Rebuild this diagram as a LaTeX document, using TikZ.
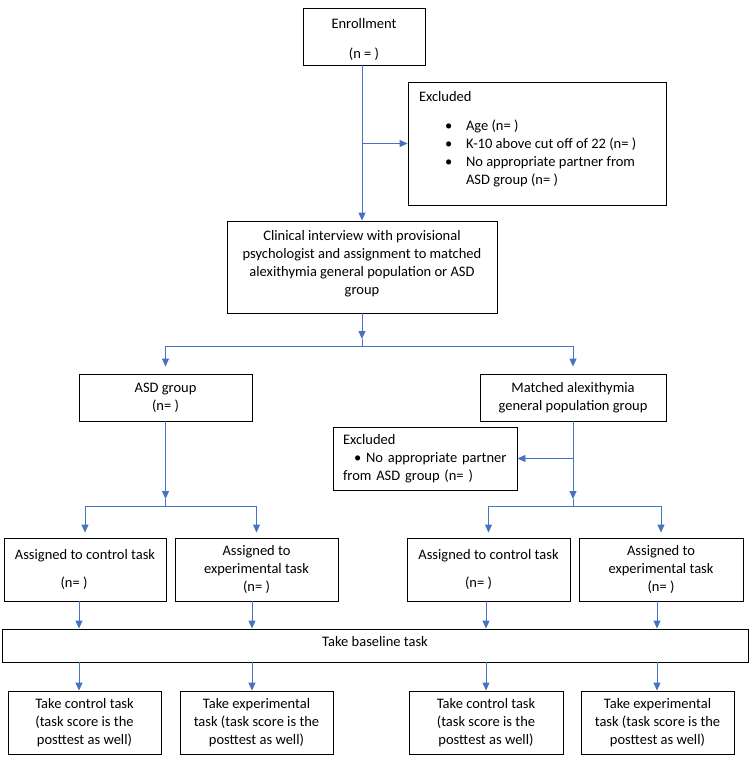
\documentclass[tikz,border=0pt]{standalone}
\usepackage{fontspec}
\setmainfont{Carlito}
\usetikzlibrary{arrows.meta}
\definecolor{conn}{HTML}{4472C4}
\newcommand\myfs{\fontsize{14.5pt}{18pt}\selectfont}
\newcommand\shiftc[2]{\raisebox{#1}[\height][\depth]{\begin{tabular}{@{}c@{}}#2\end{tabular}}}
\newcommand\shiftl[2]{\raisebox{#1}[\height][\depth]{\begin{tabular}{@{}l@{}}#2\end{tabular}}}
\begin{document}
\begin{tikzpicture}[x=1pt,y=-1pt,
  box/.style={draw=black, line width=0.9pt, inner sep=0pt, align=center, font=\myfs},
  arr/.style={draw=conn, line width=0.9pt, -{Triangle[length=8pt,width=7pt]}},
  ln/.style={draw=conn, line width=0.9pt}]
\useasboundingbox (0,0) rectangle (749,768);
% boxes
\node[box, minimum width=122pt, minimum height=57pt] (enroll) at (364,36.5) {\shiftc{-3pt}{Enrollment\\[12pt](n = )}};
\node[box, minimum width=258pt, minimum height=123pt, inner xsep=11pt] (excl1) at (537,143.5)
  {\makebox[236pt][l]{\shiftl{4pt}{Excluded\\[11pt]
   \hspace*{26pt}\makebox[21pt][l]{\textbullet}Age (n= )\\
   \hspace*{26pt}\makebox[21pt][l]{\textbullet}K-10 above cut off of 22 (n= )\\
   \hspace*{26pt}\makebox[21pt][l]{\textbullet}No appropriate partner from\\
   \hspace*{47pt}ASD group (n= )}}};
\node[box, minimum width=270pt, minimum height=92pt] (clin) at (362,267)
  {\shiftc{3pt}{Clinical interview with provisional\\psychologist and assignment to matched\\alexithymia general population or ASD\\group}};
\node[box, minimum width=173pt, minimum height=47pt] (asd) at (165.5,397.5) {ASD group\\(n= )};
\node[box, minimum width=186pt, minimum height=47pt] (mat) at (573,397.5) {Matched alexithymia\\general population group};
\node[box, minimum width=184pt, minimum height=63pt, text width=164pt, align=left, inner xsep=10pt] (excl2) at (425,458.5)
  {Excluded\\\hspace*{11pt}\textbullet\ No appropriate partner\\from ASD group (n= )};
\node[box, minimum width=162pt, minimum height=63pt] (a1) at (85,569.5) {Assigned to control task\\[10pt]\hspace*{-22pt}(n= )};
\node[box, minimum width=163pt, minimum height=63pt] (a2) at (256.5,569.5) {Assigned to\\experimental task\\(n= )};
\node[box, minimum width=163pt, minimum height=63pt] (a3) at (488.5,569.5) {Assigned to control task\\[10pt]\hspace*{-20pt}(n= )};
\node[box, minimum width=164pt, minimum height=63pt] (a4) at (661,569.5) {Assigned to\\experimental task\\(n= )};
\node[box, minimum width=746pt, minimum height=33pt] (base) at (375,645.5) {\shiftc{3pt}{Take baseline task}};
\node[box, minimum width=153pt, minimum height=63pt] (f1) at (84.5,722.5) {Take control task\\(task score is the\\posttest as well)};
\node[box, minimum width=153pt, minimum height=63pt] (f2) at (256.5,722.5) {Take experimental\\task (task score is the\\posttest as well)};
\node[box, minimum width=154pt, minimum height=63pt] (f3) at (486,722.5) {Take control task\\(task score is the\\posttest as well)};
\node[box, minimum width=153pt, minimum height=63pt] (f4) at (657.5,722.5) {Take experimental\\task (task score is the\\posttest as well)};
% connectors
\draw[arr] (enroll.south -| clin.north) -- (clin.north);
\draw[arr] (clin.north |- excl1.west) -- (excl1.west);
\coordinate (s1) at (362,339);
\coordinate (h1) at (362,346);
\draw[arr] (clin.south) -- (s1);
\draw[ln] (s1) -- (h1);
\draw[arr, shorten >=7pt] (h1) -| (asd.north);
\draw[arr, shorten >=7pt] (h1) -| (mat.north);
\coordinate (s2) at (165.5,499);
\coordinate (h2) at (165.5,506);
\draw[arr] (asd.south) -- (s2);
\draw[ln] (s2) -- (h2);
\draw[arr, shorten >=5pt] (h2) -| (a1.north);
\draw[arr, shorten >=5pt] (h2) -| (a2.north);
\coordinate (s3) at (573,499);
\coordinate (h3) at (573,506);
\draw[arr] (mat.south) -- (s3);
\draw[ln] (s3) -- (h3);
\draw[arr] (mat.south |- excl2.east) -- (excl2.east);
\draw[arr, shorten >=5pt] (h3) -| (a3.north);
\draw[arr, shorten >=5pt] (h3) -| (a4.north);
\coordinate (k1) at (79,0);
\coordinate (k2) at (252,0);
\coordinate (k3) at (486,0);
\coordinate (k4) at (657,0);
\foreach \a/\f/\k in {a1/f1/k1, a2/f2/k2, a3/f3/k3, a4/f4/k4} {
  \draw[arr] (\a.south -| \k) -- (base.north -| \k);
  \draw[arr] (base.south -| \k) -- (\f.north -| \k);
}
\end{tikzpicture}
\end{document}
